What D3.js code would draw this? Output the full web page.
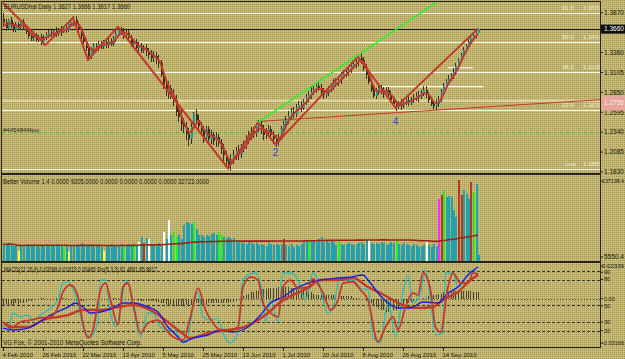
<!DOCTYPE html>
<html lang="en">
<head>
<meta charset="UTF-8" />
<title>EURUSD Daily</title>
<script src="https://d3js.org/d3.v7.min.js"></script>
<style>
  body { margin: 0; padding: 0; background: #c2b66e; }
  svg { display: block; font-family: "Liberation Sans", "DejaVu Sans", sans-serif; }
  text { font-size: 6.5px; fill: #141408; }
</style>
</head>
<body>
<svg width="625" height="359"></svg>
<script>
// ---- price bars (daily closes, daily range in pips) ----
const firstOpen = 1.3790;
const closes = [
  1.3752,1.3675,1.3777,1.3713,1.3650,1.3726,1.3675,1.3752,1.3688,1.3624,
  1.3573,1.3548,1.3586,1.3522,1.3560,1.3497,1.3548,1.3586,1.3611,1.3586,
  1.3637,1.3599,1.3650,1.3624,1.3675,1.3650,1.3726,1.3752,1.3777,1.3726,
  1.3650,1.3573,1.3497,1.3420,1.3318,1.3395,1.3446,1.3420,1.3471,1.3433,
  1.3497,1.3458,1.3509,1.3471,1.3548,1.3599,1.3650,1.3624,1.3586,1.3611,
  1.3548,1.3471,1.3497,1.3420,1.3446,1.3395,1.3420,1.3369,1.3331,1.3293,
  1.3318,1.3267,1.3229,1.3076,1.2948,1.2859,1.2910,1.2808,1.2757,1.2604,
  1.2528,1.2451,1.2400,1.2311,1.2247,1.2400,1.2579,1.2502,1.2425,1.2349,
  1.2272,1.2375,1.2247,1.2298,1.2222,1.2272,1.2196,1.2120,1.2043,1.1967,
  1.1917,1.1992,1.2043,1.2094,1.2056,1.2145,1.2171,1.2247,1.2298,1.2349,
  1.2324,1.2400,1.2438,1.2375,1.2298,1.2349,1.2375,1.2298,1.2247,1.2209,
  1.2272,1.2375,1.2451,1.2502,1.2553,1.2604,1.2579,1.2655,1.2693,1.2655,
  1.2732,1.2783,1.2821,1.2859,1.2885,1.2936,1.2910,1.2859,1.2821,1.2846,
  1.2885,1.2936,1.2961,1.2987,1.3012,1.3063,1.3089,1.3114,1.3140,1.3191,
  1.3216,1.3242,1.3293,1.3267,1.3165,1.3076,1.2987,1.2885,1.2808,1.2859,
  1.2910,1.2859,1.2834,1.2885,1.2821,1.2757,1.2706,1.2668,1.2706,1.2681,
  1.2732,1.2757,1.2719,1.2757,1.2783,1.2808,1.2795,1.2846,1.2885,1.2821,
  1.2757,1.2706,1.2681,1.2706,1.2757,1.2859,1.2936,1.2987,1.3025,1.3063,
  1.3114,1.3191,1.3267,1.3331,1.3395,1.3446,1.3497,1.3548,1.3586,1.3611,1.3660
];
const ranges = [
  180,150,120,140,110,130,100,120,140,110,
  120,100,130,110,90,140,120,100,110,90,
  110,130,100,120,90,110,140,100,120,150,
  130,160,140,150,210,160,120,110,130,100,
  120,110,140,100,130,150,120,110,140,100,
  130,150,110,140,120,130,110,160,140,150,
  140,150,160,220,250,200,230,180,210,270,
  200,260,180,220,240,280,230,190,200,170,
  210,190,220,180,160,200,170,190,210,180,
  140,220,180,160,190,170,150,180,160,170,
  150,180,160,170,190,150,140,160,170,150,
  160,180,150,140,170,130,150,160,120,140,
  150,130,140,160,120,130,110,150,140,120,
  130,120,140,110,130,150,120,110,130,140,
  120,130,150,140,180,190,160,170,150,140,
  130,120,140,110,130,150,120,140,110,130,
  120,110,130,100,120,110,140,120,130,150,
  140,120,110,130,150,160,140,120,130,110,
  140,150,130,120,140,110,130,120,100,110,49
];

// zigzag pivots
const zigBars   = [0, 17, 28, 34, 46, 90, 102, 109, 142, 157, 190];
const zigPrices = [1.3990, 1.3458, 1.3803, 1.3267, 1.3688, 1.1876, 1.2464, 1.2183, 1.3305, 1.2655, 1.3666];

// fibonacci levels
const fibNames  = ["61.8", "50.0", "38.2", "23.6", "Low"];
const fibPrices = [1.3870, 1.3497, 1.3105, 1.2630, 1.1865];

// other horizontal objects
const bidPrice = 1.3660;
const shortLevels = [
  { from: 178, to: 188, price: 1.3165 },
  { from: 151, to: 192, price: 1.2923 }
];
const orderPrice = 1.2332;
const orderLabel = "#4454844buy";
const greenTrend = [[102, 1.2464], [142, 1.3326]];
const redTrend   = [[102, 1.2477], [157, 1.2589]];
const waveLabels = [{ bar: 109, price: 1.2081, text: "2" }, { bar: 157, price: 1.2489, text: "4" }];

const priceTicks = [1.3870, 1.3360, 1.3105, 1.2850, 1.2595, 1.2340, 1.2085, 1.1830];

// ---- Better Volume ----
const volumes = [
  27800,26100,29500,27800,24300,26100,15800,26100,24300,27800,
  26100,24300,27800,26100,22600,24300,26100,27800,26100,24300,
  26100,27800,24300,26100,22600,26100,14100,24300,26100,27800,
  26100,29500,27800,26100,24300,27800,26100,24300,26100,22600,
  15800,24300,26100,27800,26100,24300,26100,27800,26100,24300,
  27800,26100,29500,26100,31200,39700,29500,38000,36300,27800,
  26100,27800,29500,24300,48300,36300,68800,43100,48300,39700,
  43100,36300,60200,65400,63700,61900,65400,53400,43100,43100,
  39700,43100,41400,44900,46600,43100,48300,43100,39700,38000,
  39700,36300,38000,34600,31200,29500,29500,27800,31200,29500,
  27800,29500,26100,27800,26100,24300,29500,27800,26100,27800,
  26100,27800,36300,26100,24300,27800,22600,26100,24300,27800,
  32900,34600,36300,32900,34600,31200,36300,39700,31200,32900,
  29500,32900,31200,26100,32900,27800,26100,27800,29500,27800,
  26100,27800,29500,31200,27800,34600,34600,29500,27800,29500,
  27800,31200,29500,26100,27800,31200,29500,32900,27800,26100,
  29500,27800,26100,24300,27800,26100,22600,24300,26100,32900,
  26100,22600,27800,24300,104700,111500,120100,108100,109800,108100,
  85900,73900,137100,111500,120100,113200,104700,133700,116600,130300,9205
];
const lowBars         = [6, 26, 40];
const churnBars       = [24, 48, 52, 68, 69, 76, 86, 87, 122, 134, 157, 176, 188];
const highBars        = [54, 58, 64, 66, 146, 169];
const climaxBars      = [56, 112, 175, 182, 183, 187];
const climaxChurnBars = [174];
const volumeTicks = [137138.4, 5550.4];

// ---- MACD + Stochastic ----
const macdHist = [
  -0.004,-0.004,-0.005,-0.004,-0.004,-0.003,-0.004,-0.003,-0.003,-0.002,
  -0.001,-0.001,0,0,0,0.001,0.001,0,0,0,
  0,0.001,0.001,0.001,0.001,0.001,0,0,0,-0.001,
  -0.001,-0.001,-0.001,0,0,0,0,0,0,0,
  0,0,0,0,0.001,0.001,0.001,0.001,0,0,
  0,0,0,0,-0.001,-0.001,-0.001,-0.001,-0.001,-0.001,
  -0.001,-0.002,-0.002,-0.003,-0.003,-0.004,-0.004,-0.004,-0.005,-0.005,
  -0.005,-0.005,-0.004,-0.004,-0.004,-0.004,-0.003,-0.003,-0.003,-0.004,
  -0.004,-0.004,-0.003,-0.003,-0.003,-0.003,-0.003,-0.003,-0.003,-0.003,
  -0.003,-0.002,-0.002,-0.001,0,0.001,0.002,0.003,0.004,0.005,
  0.005,0.006,0.006,0.007,0.007,0.007,0.008,0.008,0.008,0.008,
  0.009,0.009,0.009,0.009,0.009,0.008,0.008,0.008,0.008,0.007,
  0.007,0.006,0.006,0.005,0.004,0.003,0.003,0.003,0.003,0.003,
  0.003,0.003,0.003,0.003,0.002,0.002,0.002,0.002,0.002,0.002,
  0.001,0.001,0.001,0,0,-0.001,-0.002,-0.003,-0.005,-0.006,
  -0.007,-0.008,-0.008,-0.009,-0.009,-0.009,-0.008,-0.008,-0.007,-0.006,
  -0.005,-0.004,-0.003,-0.002,-0.001,-0.001,0,0,0.001,0.001,
  0.002,0.002,0.003,0.003,0.004,0.004,0.005,0.005,0.005,0.005,
  0.006,0.006,0.006,0.006,0.006,0.006,0.006,0.006,0.005,0.005,0.005
];
const macdLine = [[0,-0.0209],[4,-0.0223],[10,-0.0209],[14,-0.0172],[19,-0.0115],[26,-0.0057],[29,-0.0028],[32,-0.0057],[35,-0.0100],[39,-0.0093],[44,-0.0064],[48,-0.0028],[52,-0.0028],[58,-0.0057],[62,-0.0093],[66,-0.0201],[70,-0.0273],[72,-0.0310],[76,-0.0281],[82,-0.0259],[87,-0.0223],[92,-0.0237],[98,-0.0201],[103,-0.0115],[107,-0.0028],[112,0.0015],[116,0.0066],[122,0.0116],[127,0.0138],[134,0.0152],[139,0.0159],[144,0.0174],[146,0.0138],[150,0.0044],[154,-0.0028],[158,-0.0064],[163,-0.0064],[168,-0.0021],[174,-0.0028],[178,0.0044],[182,0.0087],[186,0.0174],[190,0.0232]];
const macdSignal = [[0,-0.0165],[4,-0.0201],[10,-0.0201],[16,-0.0151],[26,-0.0115],[32,-0.0079],[39,-0.0079],[46,-0.0057],[52,-0.0043],[59,-0.0079],[66,-0.0165],[71,-0.0237],[75,-0.0281],[82,-0.0245],[90,-0.0223],[95,-0.0209],[100,-0.0172],[106,-0.0100],[111,-0.0021],[116,0.0030],[122,0.0080],[127,0.0138],[134,0.0138],[140,0.0152],[146,0.0087],[151,0.0044],[156,-0.0006],[162,-0.0057],[167,-0.0064],[172,-0.0057],[176,-0.0006],[182,0.0051],[187,0.0138],[190,0.0174]];
const stoMain = [[0,26.6],[2,20.7],[4,40.7],[7,36.0],[10,38.3],[12,32.4],[15,38.3],[18,44.2],[22,55.9],[24,75.9],[26,77.1],[27,73.6],[30,52.4],[32,24.2],[35,12.5],[38,32.4],[39,79.4],[41,79.4],[43,40.7],[45,24.2],[47,44.2],[49,79.4],[50,77.1],[52,47.7],[55,12.5],[58,40.7],[60,40.7],[63,24.2],[66,20.7],[68,24.2],[72,5.4],[74,12.5],[76,47.7],[78,65.3],[80,36.0],[83,32.4],[86,34.8],[88,17.2],[91,5.4],[94,17.2],[96,79.4],[98,85.3],[101,87.7],[104,59.5],[105,30.1],[107,55.9],[110,30.1],[112,87.7],[115,87.7],[118,79.4],[121,55.9],[124,87.7],[126,79.4],[130,40.7],[132,47.7],[135,83.0],[138,79.4],[140,79.4],[143,70.0],[146,67.7],[148,12.5],[151,5.4],[154,55.9],[157,12.5],[160,64.2],[162,85.3],[164,52.4],[167,64.2],[169,91.2],[171,55.9],[173,15.0],[176,17.2],[177,87.7],[180,87.7],[182,71.2],[185,81.8],[188,91.2],[190,84.0]];
const stoSignal = [[0,30.1],[3,23.0],[7,30.1],[11,32.4],[15,34.8],[19,36.0],[22,47.7],[24,65.3],[27,73.6],[30,60.0],[32,28.0],[34,11.3],[36,20.7],[39,67.7],[41,75.9],[43,55.9],[46,26.6],[48,71.2],[50,75.9],[52,52.4],[55,17.2],[58,28.9],[62,32.4],[66,18.3],[68,12.5],[72,8.9],[75,36.0],[78,70.0],[81,44.2],[84,28.9],[87,20.7],[91,20.7],[94,24.2],[96,71.2],[99,83.0],[102,79.4],[104,52.4],[107,40.7],[110,36.0],[112,71.2],[115,79.4],[118,70.0],[122,71.2],[124,80.6],[128,64.2],[131,44.2],[134,55.9],[136,75.9],[140,77.1],[143,67.7],[146,55.9],[150,6.6],[153,24.2],[156,36.0],[158,20.7],[161,47.7],[164,64.2],[166,61.8],[168,87.7],[171,67.7],[173,24.2],[175,18.3],[178,71.2],[180,87.7],[183,75.9],[186,75.9],[188,87.7],[190,86.0]];
const stoLevels = [90, 80, 50, 30, 20];
const macdTicks = [0.02339, 0, -0.03166];

// ---- date axis ----
const dateLabels = ["4 Feb 2010", "26 Feb 2010", "22 Mar 2010", "13 Apr 2010", "5 May 2010", "25 May 2010",
  "13 Jun 2010", "1 Jul 2010", "20 Jul 2010", "8 Aug 2010", "26 Aug 2010", "14 Sep 2010"];
const barsPerLabel = 16;

const headerMain = "EURUSDhal Daily  1.3627 1.3666 1.3617 1.3660";
const headerVol = "Better Volume 1.4 0.0000 9205.0000 0.0000 0.0000 0.0000 0.0000 32723.0000";
const headerMacd = "MACD(12,26,9) 0.02089 0.01623 0.00465  Sto(5,3,3) 81.4891 85.8617";
const footer = "VG Fox, \u00a9 2001-2010 MetaQuotes Software Corp.";

// ================= drawing =================
const width = 625, height = 359;
const left = 2, right = 600;
const main = { top: 2, bottom: 173 };
const vol = { top: 175, bottom: 261 };
const osc = { top: 263, bottom: 347 };
const svg = d3.select("svg");

const defs = svg.append("defs");
const grain = defs.append("pattern").attr("id", "grain")
  .attr("width", 2).attr("height", 2).attr("patternUnits", "userSpaceOnUse");
grain.append("rect").attr("width", 2).attr("height", 2).attr("fill", "#c7bb77");
grain.append("rect").attr("width", 1).attr("height", 1).attr("fill", "#a19555");

[["clipMain", main], ["clipVol", vol], ["clipOsc", osc]].forEach(([id, p]) => {
  defs.append("clipPath").attr("id", id).append("rect")
    .attr("x", left).attr("y", p.top).attr("width", right - left).attr("height", p.bottom - p.top);
});

svg.append("rect").attr("width", width).attr("height", height).attr("fill", "url(#grain)");

const x = d3.scaleLinear().domain([0, closes.length - 1]).range([3, 478]);
const yP = d3.scaleLinear().domain([1.1830, 1.3870]).range([172, 12.7]);
const yV = d3.scaleLinear().domain([5550.4, 137138.4]).range([257, 180]);
const yM = d3.scaleLinear().domain([-0.03166, 0.02339]).range([343, 266.7]);
const yS = d3.scaleLinear().domain([0, 100]).range([347.6, 262.5]);

// ---------- main panel ----------
const gMain = svg.append("g").attr("clip-path", "url(#clipMain)");

gMain.append("line").attr("x1", left).attr("x2", right)
  .attr("y1", yP(1.2744)).attr("y2", yP(1.2744))
  .attr("stroke", "#dcd29c").attr("stroke-width", 2.5);

fibPrices.forEach((p, k) => {
  gMain.append("line").attr("x1", left).attr("x2", right)
    .attr("y1", Math.round(yP(p)) + 0.5).attr("y2", Math.round(yP(p)) + 0.5)
    .attr("stroke", "#fbfaf0").attr("stroke-width", 1.2);
  gMain.append("text").attr("x", fibNames[k] === "Low" ? 565 : 562).attr("y", yP(p) - 3)
    .style("fill", "#efeccc").style("font-size", "6px").text(fibNames[k]);
  gMain.append("text").attr("x", 583).attr("y", yP(p) - 3)
    .style("fill", "#efeccc").style("font-size", "6px").text(p.toFixed(4));
});

shortLevels.forEach(s => {
  gMain.append("line").attr("x1", x(s.from)).attr("x2", x(s.to))
    .attr("y1", yP(s.price)).attr("y2", yP(s.price))
    .attr("stroke", "#fbfaf0").attr("stroke-width", 1.2);
});

gMain.append("line").attr("x1", left).attr("x2", right)
  .attr("y1", Math.round(yP(bidPrice)) + 0.5).attr("y2", Math.round(yP(bidPrice)) + 0.5)
  .attr("stroke", "#1c1c14").attr("stroke-width", 1);

gMain.append("line").attr("x1", left).attr("x2", right)
  .attr("y1", yP(orderPrice)).attr("y2", yP(orderPrice))
  .attr("stroke", "#3fbf3a").attr("stroke-width", 1).attr("stroke-dasharray", "3,3");
gMain.append("text").attr("x", 3).attr("y", yP(orderPrice) - 1)
  .style("font-size", "6px").style("fill", "#2a2a20").text(orderLabel);

// trend rays to the right edge
function ray(pts) {
  const [[b1, p1], [b2, p2]] = pts;
  const bEnd = x.invert(right);
  const pEnd = p1 + (p2 - p1) / (b2 - b1) * (bEnd - b1);
  return [[x(b1), yP(p1)], [right, yP(pEnd)]];
}
gMain.append("path").attr("d", d3.line()(ray(redTrend)))
  .attr("fill", "none").attr("stroke", "#c8362a").attr("stroke-width", 1);

// candles
const bars = closes.map((c, i) => {
  const o = i === 0 ? firstOpen : closes[i - 1];
  const ext = Math.max(0.0004, (ranges[i] * 0.0001 - Math.abs(c - o)) / 2);
  return { i, o, c, h: Math.max(o, c) + ext, l: Math.min(o, c) - ext };
});
const candle = gMain.append("g").attr("shape-rendering", "crispEdges");
bars.forEach(b => {
  const px = Math.round(x(b.i));
  candle.append("line").attr("x1", px + 0.5).attr("x2", px + 0.5)
    .attr("y1", yP(b.h)).attr("y2", yP(b.l)).attr("stroke", "#3a3020");
  candle.append("rect").attr("x", px).attr("width", 2)
    .attr("y", yP(Math.max(b.o, b.c)))
    .attr("height", Math.max(1, Math.abs(yP(b.o) - yP(b.c))))
    .attr("fill", b.c >= b.o ? "#20959c" : "#3d2f14");
});

// red smoothing line + zigzag
const ma = closes.map((c, i) => d3.mean(closes.slice(Math.max(0, i - 3), i + 1)));
gMain.append("path").datum(ma)
  .attr("d", d3.line().x((d, i) => x(i)).y(d => yP(d)).curve(d3.curveMonotoneX))
  .attr("fill", "none").attr("stroke", "#c23a2c").attr("stroke-width", 2);
gMain.append("path").datum(zigBars.map((b, k) => [b, zigPrices[k]]))
  .attr("d", d3.line().x(d => x(d[0])).y(d => yP(d[1])))
  .attr("fill", "none").attr("stroke", "#c23a2c").attr("stroke-width", 2);

gMain.append("path").attr("d", d3.line()(ray(greenTrend)))
  .attr("fill", "none").attr("stroke", "#2bef2b").attr("stroke-width", 1.5);

waveLabels.forEach(w => {
  gMain.append("text").attr("x", x(w.bar)).attr("y", yP(w.price) + 4)
    .attr("text-anchor", "middle").style("font-size", "10px").style("fill", "#3a3ad0").text(w.text);
});

gMain.append("text").attr("x", 4).attr("y", 9).attr("textLength", 126)
  .attr("lengthAdjust", "spacingAndGlyphs").style("font-size", "7px").text(headerMain);

// ---------- volume panel ----------
const gVol = svg.append("g").attr("clip-path", "url(#clipVol)");
const volColor = i => climaxChurnBars.includes(i) ? "#ff2cff"
  : climaxBars.includes(i) ? "#b8391f"
  : churnBars.includes(i) ? "#25ef25"
  : highBars.includes(i) ? "#ffffff"
  : lowBars.includes(i) ? "#ffff30" : "#22a2ae";
const volBars = gVol.append("g").attr("shape-rendering", "crispEdges");
volumes.forEach((v, i) => {
  const px = Math.round(x(i));
  volBars.append("rect").attr("x", px).attr("width", 2)
    .attr("y", yV(v)).attr("height", vol.bottom - yV(v))
    .attr("fill", volColor(i));
});
const volMa = volumes.map((v, i) => d3.mean(volumes.slice(Math.max(0, i - 99), i + 1)));
gVol.append("path").datum(volMa)
  .attr("d", d3.line().x((d, i) => x(i)).y(d => yV(d)))
  .attr("fill", "none").attr("stroke", "#9c2414").attr("stroke-width", 1.6);
svg.append("text").attr("x", 3).attr("y", 184).attr("textLength", 206)
  .attr("lengthAdjust", "spacingAndGlyphs").style("font-size", "7px").text(headerVol);

// ---------- MACD / Stochastic panel ----------
const gOsc = svg.append("g").attr("clip-path", "url(#clipOsc)");
stoLevels.forEach(l => {
  gOsc.append("line").attr("x1", left).attr("x2", right)
    .attr("y1", Math.round(yS(l)) + 0.5).attr("y2", Math.round(yS(l)) + 0.5)
    .attr("stroke", "#3a3828").attr("stroke-dasharray", "3,2");
});
gOsc.append("line").attr("x1", left).attr("x2", right)
  .attr("y1", Math.round(yM(0)) + 0.5).attr("y2", Math.round(yM(0)) + 0.5)
  .attr("stroke", "#4a4632").attr("stroke-dasharray", "1,2");

const hist = gOsc.append("g").attr("shape-rendering", "crispEdges");
macdHist.forEach((v, i) => {
  if (v === 0) return;
  const px = Math.round(x(i)) + 0.5;
  hist.append("line").attr("x1", px).attr("x2", px)
    .attr("y1", yM(0)).attr("y2", yM(v)).attr("stroke", "#4b4733");
});

const lineM = d3.line().x(d => x(d[0])).y(d => yM(d[1])).curve(d3.curveMonotoneX);
const lineS = d3.line().x(d => x(d[0])).y(d => yS(d[1])).curve(d3.curveMonotoneX);
gOsc.append("path").attr("d", lineS(stoMain)).attr("fill", "none")
  .attr("stroke", "#1fbcbc").attr("stroke-width", 1.2);
gOsc.append("path").attr("d", lineM(macdSignal)).attr("fill", "none")
  .attr("stroke", "#c43a2a").attr("stroke-width", 2.4);
gOsc.append("path").attr("d", lineM(macdLine)).attr("fill", "none")
  .attr("stroke", "#1c1ce0").attr("stroke-width", 1.4);
gOsc.append("path").attr("d", lineS(stoSignal)).attr("fill", "none")
  .attr("stroke", "#c8382a").attr("stroke-width", 1.8);

svg.append("text").attr("x", 4).attr("y", 272).attr("textLength", 153)
  .attr("lengthAdjust", "spacingAndGlyphs").style("font-size", "7px").text(headerMacd);
svg.append("text").attr("x", 3).attr("y", 345).attr("textLength", 139)
  .attr("lengthAdjust", "spacingAndGlyphs").style("font-size", "7px").text(footer);

// ---------- frames ----------
const frame = svg.append("g").attr("fill", "none").attr("stroke", "#25251a").attr("shape-rendering", "crispEdges");
frame.append("rect").attr("x", 1).attr("y", 1).attr("width", right - 1).attr("height", osc.bottom - 1);
frame.append("line").attr("x1", 1).attr("x2", right).attr("y1", 174).attr("y2", 174).attr("stroke-width", 2);
frame.append("line").attr("x1", 1).attr("x2", right).attr("y1", 262).attr("y2", 262).attr("stroke-width", 1.5);

// ---------- right axes ----------
const axisG = svg.append("g");
function rightLabel(y, label, size) {
  axisG.append("line").attr("x1", right).attr("x2", right + 3).attr("y1", y).attr("y2", y)
    .attr("stroke", "#25251a");
  const t = axisG.append("text").attr("x", right + 4).attr("y", y).attr("dy", "0.35em").text(label);
  if (size) t.style("font-size", size + "px");
  return t;
}
priceTicks.forEach(p => rightLabel(yP(p), p.toFixed(4)));
rightLabel(yV(volumeTicks[0]) + 1, volumeTicks[0].toFixed(1), 5.5).attr("x", right + 2)
  .attr("textLength", 22).attr("lengthAdjust", "spacingAndGlyphs");
rightLabel(yV(volumeTicks[1]), volumeTicks[1].toFixed(1));
rightLabel(yM(macdTicks[0]) - 0.7, macdTicks[0].toFixed(5), 5.5).attr("x", right + 2)
  .attr("textLength", 22).attr("lengthAdjust", "spacingAndGlyphs");
rightLabel(yM(macdTicks[1]) - 0.5, "0.00", 5.5);
rightLabel(yM(macdTicks[2]), macdTicks[2].toFixed(5), 5.5).attr("x", right + 2)
  .attr("textLength", 22).attr("lengthAdjust", "spacingAndGlyphs");
stoLevels.forEach(l => rightLabel(yS(l) + (l === 90 ? 1.2 : l === 50 ? 0.8 : 0), l, 5.5));

// price tags on the axis
const redEnd = ray(redTrend)[1][1];
axisG.append("rect").attr("x", right + 1).attr("y", redEnd - 4).attr("width", 24).attr("height", 15)
  .attr("fill", "#e6a69c");
axisG.append("text").attr("x", right + 4).attr("y", redEnd + 3.5).attr("dy", "0.35em")
  .style("fill", "#f6ece4").text(yP.invert(redEnd).toFixed(4));
axisG.append("rect").attr("x", right + 1).attr("y", yP(bidPrice) - 4.5).attr("width", 24).attr("height", 9)
  .attr("fill", "#0c0c08");
axisG.append("text").attr("x", right + 4).attr("y", yP(bidPrice)).attr("dy", "0.35em")
  .style("fill", "#ffffff").text(bidPrice.toFixed(4));

// ---------- date axis ----------
dateLabels.forEach((d, k) => {
  const px = Math.round(x(k * barsPerLabel)) + 0.5;
  svg.append("line").attr("x1", px).attr("x2", px).attr("y1", osc.bottom).attr("y2", osc.bottom + 4)
    .attr("stroke", "#25251a");
  svg.append("text").attr("x", px - 1).attr("y", 357).style("font-size", "6px").text(d);
});
</script>
</body>
</html>
